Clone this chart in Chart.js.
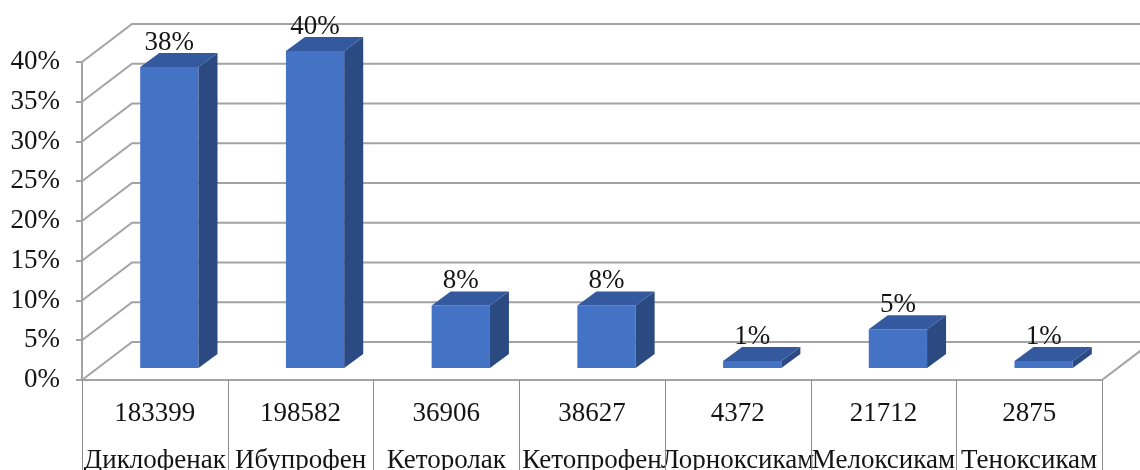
<!DOCTYPE html>
<html>
<head>
<meta charset="utf-8">
<script src="https://cdn.jsdelivr.net/npm/chart.js@4.4.1/dist/chart.umd.min.js"></script>
<style>
  html, body { margin: 0; padding: 0; background: #fff; }
</style>
</head>
<body>
<canvas id="chart" width="1140" height="470"></canvas>
<script>
const drugNames = ["Диклофенак", "Ибупрофен", "Кеторолак", "Кетопрофен", "Лорноксикам", "Мелоксикам", "Теноксикам"];
const drugCounts = ["183399", "198582", "36906", "38627", "4372", "21712", "2875"];
const sharePercent = [38, 40, 8, 8, 1, 5, 1];
const yMax = 40;
const yStep = 5;

const FONT = "'Liberation Serif', 'Times New Roman', serif";
const TEXT = "#141414";
const GRID = "#a3a3a3";
const FRONT = "#4472c4";
const SIDE = "#2b4a82";
const TOP = "#34599f";

// fake 3d: back wall offset, where the bars sit in the depth, bar depth
const WALL_DX = 50, WALL_DY = -38;
const BAR_DX = 14.5, BAR_DY = -11;
const DEPTH_DX = 19, DEPTH_DY = -14;

const box3d = {
    id: "box3d",
    beforeDatasetsDraw(chart) {
        const ctx = chart.ctx;
        const x = chart.scales.x, y = chart.scales.y;
        const area = chart.chartArea;

        ctx.save();
        ctx.strokeStyle = GRID;
        ctx.lineWidth = 2;
        ctx.beginPath();
        y.ticks.forEach(t => {
            const py = y.getPixelForValue(t.value);
            ctx.moveTo(area.left, py);
            ctx.lineTo(area.left + WALL_DX, py + WALL_DY);
            ctx.lineTo(area.right + WALL_DX + 10, py + WALL_DY);
        });
        const py0 = y.getPixelForValue(0);
        ctx.moveTo(area.right, py0);
        ctx.lineTo(area.right + WALL_DX, py0 + WALL_DY);
        ctx.stroke();

        // table lines under the floor
        const step = x.width / drugNames.length;
        ctx.lineWidth = 1;
        ctx.strokeStyle = "#8c8c8c";
        ctx.beginPath();
        for (let i = 0; i <= drugNames.length; i++) {
            const px = Math.round(x.left + step * i) + 0.5;
            ctx.moveTo(px, area.bottom);
            ctx.lineTo(px, chart.height);
        }
        ctx.stroke();
        ctx.restore();

        ctx.save();
        ctx.translate(BAR_DX, BAR_DY);
    },
    afterDatasetsDraw(chart) {
        const ctx = chart.ctx;
        const meta = chart.getDatasetMeta(0);
        meta.data.forEach((bar, i) => {
            const l = bar.x - bar.width / 2, r = bar.x + bar.width / 2;
            const t = bar.y, b = bar.base;

            ctx.fillStyle = SIDE;
            ctx.beginPath();
            ctx.moveTo(r, b);
            ctx.lineTo(r + DEPTH_DX, b + DEPTH_DY);
            ctx.lineTo(r + DEPTH_DX, t + DEPTH_DY);
            ctx.lineTo(r, t);
            ctx.closePath();
            ctx.fill();

            ctx.fillStyle = TOP;
            ctx.beginPath();
            ctx.moveTo(l, t);
            ctx.lineTo(l + DEPTH_DX, t + DEPTH_DY);
            ctx.lineTo(r + DEPTH_DX, t + DEPTH_DY);
            ctx.lineTo(r, t);
            ctx.closePath();
            ctx.fill();

            ctx.fillStyle = TEXT;
            ctx.font = "27px " + FONT;
            ctx.textAlign = "center";
            ctx.textBaseline = "middle";
            ctx.fillText(sharePercent[i] + "%", bar.x, t - 24);
        });
        ctx.restore();
    }
};

const ctx = document.getElementById("chart").getContext("2d");
new Chart(ctx, {
    type: "bar",
    data: {
        labels: drugNames.map((n, i) => [drugCounts[i], n]),
        datasets: [{
            data: sharePercent,
            backgroundColor: FRONT,
            borderWidth: 0,
            categoryPercentage: 1,
            barPercentage: 0.4,
            clip: false
        }]
    },
    options: {
        responsive: false,
        animation: false,
        devicePixelRatio: 1,
        layout: { padding: { top: 62, right: 38, left: 0, bottom: 0 } },
        plugins: {
            legend: { display: false },
            tooltip: { enabled: false }
        },
        scales: {
            x: {
                grid: { display: false, drawTicks: false },
                border: { display: true, color: GRID, width: 2 },
                ticks: {
                    color: TEXT,
                    font: { family: FONT, size: 27, lineHeight: 1.74 },
                    padding: 10,
                    autoSkip: false,
                    maxRotation: 0,
                    minRotation: 0
                },
                afterFit(scale) { scale.height = 90; }
            },
            y: {
                min: 0,
                max: yMax,
                grid: { drawOnChartArea: false, color: GRID, lineWidth: 2, tickLength: 6 },
                border: { display: true, color: GRID, width: 2 },
                ticks: {
                    stepSize: yStep,
                    color: TEXT,
                    font: { family: FONT, size: 27 },
                    padding: 16,
                    callback: v => v + "%"
                },
                afterFit(scale) { scale.width = 82; }
            }
        }
    },
    plugins: [box3d]
});
</script>
</body>
</html>
